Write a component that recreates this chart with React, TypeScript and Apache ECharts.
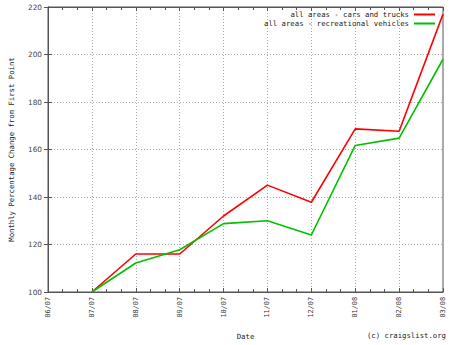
import React, { useEffect, useRef } from "react";
import * as echarts from "echarts";

const categories = ["06/07", "07/07", "08/07", "09/07", "10/07", "11/07", "12/07", "01/08", "02/08", "03/08"];
const carsAndTrucks: (number | null)[] = [null, 100, 116, 116, 132, 145, 137.8, 168.7, 167.7, 217];
const recreationalVehicles: (number | null)[] = [null, 100, 112.2, 117.8, 128.8, 130, 124, 161.7, 164.8, 198];
const seriesNames = ["all areas - cars and trucks", "all areas - recreational vehicles"];
const yTicks = { min: 100, max: 220, interval: 20 };

const toPairs = (arr: (number | null)[]) =>
  arr.map((v, i) => (v === null ? null : [i, v])).filter((p) => p !== null) as number[][];

const MONO = "DejaVu Sans Mono";

export default function App() {
  const ref = useRef<HTMLDivElement>(null);
  useEffect(() => {
    if (!ref.current) return;
    const chart = echarts.init(ref.current, null, { renderer: "svg" });
    const frame = "#555";
    const grid = "#aaaaaa";
    chart.setOption({
      animation: false,
      backgroundColor: "#fff",
      grid: { left: 37, right: 7, top: 7, bottom: 52, show: true, borderColor: frame, borderWidth: 1 },
      title: {
        text: "(c) craigslist.org",
        right: 4,
        bottom: 6,
        padding: 0,
        textStyle: { fontFamily: MONO, fontSize: 7.3, fontWeight: "normal", color: "#222" },
      },
      legend: [
        {
          data: [seriesNames[0]],
          right: 15,
          top: 11,
          padding: 0,
          align: "right",
          icon: "rect",
          itemWidth: 21,
          itemHeight: 2,
          itemGap: 3,
          textStyle: { fontFamily: MONO, fontSize: 7.3, color: "#222" },
        },
        {
          data: [seriesNames[1]],
          right: 15,
          top: 20,
          padding: 0,
          align: "right",
          icon: "rect",
          itemWidth: 21,
          itemHeight: 2,
          itemGap: 3,
          textStyle: { fontFamily: MONO, fontSize: 7.3, color: "#222" },
        },
      ],
      xAxis: [
        {
          type: "value",
          min: 0,
          max: categories.length - 1,
          interval: 1,
          name: "Date",
          nameLocation: "middle",
          nameGap: 41,
          nameTextStyle: { fontFamily: MONO, fontSize: 7.3, color: "#222" },
          axisLine: { show: true, lineStyle: { color: frame, width: 1 } },
          axisTick: { show: true, inside: true, length: 4, lineStyle: { color: frame } },
          minorTick: { show: true, splitNumber: 3, length: 3, lineStyle: { color: frame } },
          axisLabel: {
            rotate: 90,
            margin: 5,
            fontFamily: MONO,
            fontSize: 6.8,
            color: "#333",
            formatter: (v: number) => categories[Math.round(v)] ?? "",
          },
          splitLine: { show: true, lineStyle: { color: grid, type: [1, 2], width: 1 } },
        },
        {
          type: "value",
          position: "top",
          min: 0,
          max: categories.length - 1,
          interval: 1,
          axisLine: { show: true, lineStyle: { color: frame, width: 1 } },
          axisTick: { show: true, inside: true, length: 4, lineStyle: { color: frame } },
          minorTick: { show: true, splitNumber: 3, length: 3, lineStyle: { color: frame } },
          axisLabel: { show: false },
          splitLine: { show: false },
        },
      ],
      yAxis: [
        {
          type: "value",
          min: yTicks.min,
          max: yTicks.max,
          interval: yTicks.interval,
          name: "Monthly Percentage Change from First Point",
          nameLocation: "middle",
          nameGap: 33,
          nameTextStyle: { fontFamily: MONO, fontSize: 7.3, color: "#222" },
          axisLine: { show: true, lineStyle: { color: frame, width: 1 } },
          axisTick: { show: true, inside: true, length: 4, lineStyle: { color: frame } },
          axisLabel: { margin: 6, fontFamily: "DejaVu Sans", fontSize: 7.3, color: "#444" },
          splitLine: { show: true, lineStyle: { color: grid, type: [1, 2], width: 1 } },
        },
        {
          type: "value",
          position: "right",
          min: yTicks.min,
          max: yTicks.max,
          interval: yTicks.interval,
          axisLine: { show: true, lineStyle: { color: frame, width: 1 } },
          axisTick: { show: true, inside: true, length: 4, lineStyle: { color: frame } },
          axisLabel: { show: false },
          splitLine: { show: false },
        },
      ],
      series: [
        {
          name: seriesNames[0],
          type: "line",
          data: toPairs(carsAndTrucks),
          showSymbol: false,
          symbol: "none",
          color: "#ff0000",
          lineStyle: { color: "#ff0000", width: 1.6 },
        },
        {
          name: seriesNames[1],
          type: "line",
          data: toPairs(recreationalVehicles),
          showSymbol: false,
          symbol: "none",
          color: "#00c000",
          lineStyle: { color: "#00c000", width: 1.6 },
        },
      ],
    });
    return () => chart.dispose();
  }, []);
  return <div ref={ref} style={{ width: 450, height: 345, position: "absolute", left: 0, top: 0 }} />;
}
